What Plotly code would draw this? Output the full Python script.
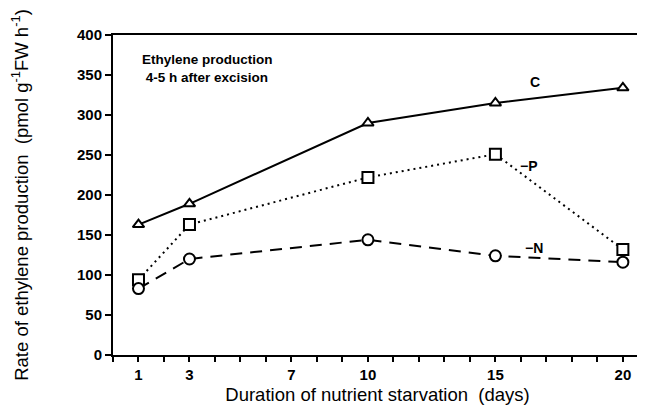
import plotly.graph_objects as go

days = [1, 3, 10, 15, 20]
control = [163, 189, 290, 315, 334]
minus_p = [94, 163, 222, 251, 132]
minus_n = [83, 120, 144, 124, 116]

x_tick_vals = list(range(0, 21))
x_tick_labels = ["<b>%d</b>" % d if d in (1, 3, 7, 10, 15, 20) else "" for d in x_tick_vals]
y_tick_vals = [0, 50, 100, 150, 200, 250, 300, 350, 400]

FONT = "Liberation Sans, Arial, Helvetica, sans-serif"

fig = go.Figure()
series = [
    (control, "solid", "triangle-up", 10),
    (minus_p, "2px,4px", "square", 11),
    (minus_n, "12px,8px", "circle", 11),
]
for vals, dash, sym, size in series:
    fig.add_trace(go.Scatter(
        x=days, y=vals, mode="lines+markers",
        line=dict(color="black", width=2, dash=dash),
        marker=dict(symbol=sym, size=size, color="white",
                    line=dict(color="black", width=2)),
        showlegend=False, cliponaxis=False,
    ))

annots = [
    (16.55, 341, "<b>C</b>"),
    (16.3, 236, "<b>\u2212P</b>"),
    (16.5, 134, "<b>\u2212N</b>"),
]
for x, y, t in annots:
    fig.add_annotation(x=x, y=y, text=t, showarrow=False,
                       font=dict(family=FONT, size=14, color="black"))

fig.add_annotation(x=1.05, y=381, xanchor="left", yanchor="top", align="left",
                   text="<b>Ethylene production</b><br><b> 4-5 h after excision</b>",
                   showarrow=False,
                   font=dict(family=FONT, size=13.5, color="black"))

# page has an 8px body margin: figure is drawn from (8, 8)
fig.update_layout(
    width=637, height=404,
    margin=dict(l=105, r=3, t=27, b=57),
    plot_bgcolor="white", paper_bgcolor="white",
    font=dict(family=FONT, color="black"),
    xaxis=dict(
        range=[0, 20.75], tickmode="array", tickvals=x_tick_vals, ticktext=x_tick_labels,
        ticks="outside", ticklen=5, tickwidth=2, tickcolor="black",
        showline=True, linecolor="black", linewidth=2, mirror=True,
        showgrid=False, zeroline=False,
        tickfont=dict(family=FONT, size=15, color="black"),
        title=dict(text="Duration of nutrient starvation  (days)",
                   font=dict(family=FONT, size=18.5, color="black"), standoff=6),
        automargin=False,
    ),
    yaxis=dict(
        range=[0, 400], tickmode="array", tickvals=y_tick_vals,
        ticktext=["<b>%d</b>" % v for v in y_tick_vals],
        ticks="outside", ticklen=6, tickwidth=2, tickcolor="black",
        showline=True, linecolor="black", linewidth=2, mirror=True,
        showgrid=False, zeroline=False,
        tickfont=dict(family=FONT, size=15, color="black"),
        title=dict(text="Rate of ethylene production  (pmol g<sup>-1</sup>FW h<sup>-1</sup>)",
                   font=dict(family=FONT, size=18.5, color="black"), standoff=44),
        automargin=False,
    ),
)

fig.write_html("out.html")
